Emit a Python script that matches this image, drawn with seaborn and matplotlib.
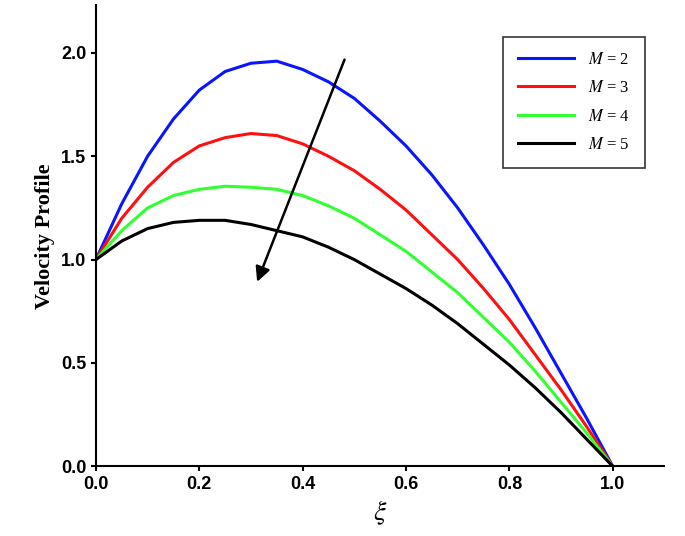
import matplotlib
matplotlib.use("Agg")
import matplotlib.pyplot as plt
import pandas as pd
import seaborn as sns

xi = [0.0, 0.05, 0.1, 0.15, 0.2, 0.25, 0.3, 0.35, 0.4, 0.45, 0.5,
      0.55, 0.6, 0.65, 0.7, 0.75, 0.8, 0.85, 0.9, 0.95, 1.0]
m2 = [1.0, 1.27, 1.5, 1.68, 1.82, 1.91, 1.95, 1.96, 1.92, 1.86, 1.78,
      1.67, 1.55, 1.41, 1.25, 1.07, 0.88, 0.67, 0.45, 0.23, 0.0]
m3 = [1.0, 1.2, 1.35, 1.47, 1.55, 1.59, 1.61, 1.6, 1.56, 1.5, 1.43,
      1.34, 1.24, 1.12, 1.0, 0.86, 0.71, 0.54, 0.37, 0.19, 0.0]
m4 = [1.0, 1.14, 1.25, 1.31, 1.34, 1.355, 1.35, 1.34, 1.31, 1.26, 1.2,
      1.12, 1.04, 0.94, 0.84, 0.72, 0.6, 0.46, 0.31, 0.16, 0.0]
m5 = [1.0, 1.09, 1.15, 1.18, 1.19, 1.19, 1.17, 1.14, 1.11, 1.06, 1.0,
      0.93, 0.86, 0.78, 0.69, 0.59, 0.49, 0.38, 0.26, 0.13, 0.0]
labels = ["$M$ = 2", "$M$ = 3", "$M$ = 4", "$M$ = 5"]
colors = ["#0a14ff", "#ff1010", "#30ff30", "#000000"]

rows = []
for lab, ys in zip(labels, [m2, m3, m4, m5]):
    for x, y in zip(xi, ys):
        rows.append({"xi": x, "v": y, "M": lab})
df = pd.DataFrame(rows)

plt.rcParams["font.family"] = "Liberation Sans"
plt.rcParams["mathtext.fontset"] = "stix"
fig, ax = plt.subplots(figsize=(6.85, 5.36), dpi=100)
sns.lineplot(data=df, x="xi", y="v", hue="M", palette=colors, linewidth=2.2, ax=ax)

ax.annotate("", xy=(0.31, 0.88), xytext=(0.483, 1.98),
            arrowprops=dict(arrowstyle="-|>", color="black", lw=1.8, mutation_scale=22))

ax.set_xlim(0, 1.1)
ax.set_ylim(0, 2.23)
ax.set_xticks([0, 0.2, 0.4, 0.6, 0.8, 1.0])
ax.set_yticks([0, 0.5, 1.0, 1.5, 2.0])
ax.xaxis.set_major_formatter(matplotlib.ticker.FormatStrFormatter("%.1f"))
ax.yaxis.set_major_formatter(matplotlib.ticker.FormatStrFormatter("%.1f"))
for t in ax.get_xticklabels() + ax.get_yticklabels():
    t.set_fontweight("bold")
    t.set_fontsize(13)
ax.spines["top"].set_visible(False)
ax.spines["right"].set_visible(False)
ax.spines["left"].set_linewidth(1.5)
ax.spines["bottom"].set_linewidth(1.5)
ax.tick_params(width=1.5)
ax.set_xlabel(r"$\xi$", fontsize=20)
ax.set_ylabel("Velocity Profile", fontsize=16, fontweight="bold", family="Liberation Serif")

leg = ax.legend(loc="upper right", bbox_to_anchor=(0.98, 0.95),
                prop={"family": "Liberation Serif", "size": 12},
                frameon=True, fancybox=False, edgecolor="black",
                handlelength=3.4, borderpad=0.9, labelspacing=0.75)
leg.get_frame().set_linewidth(1.2)

plt.subplots_adjust(left=0.14, right=0.97, top=0.99, bottom=0.13)
fig.savefig("out.png", dpi=100)
